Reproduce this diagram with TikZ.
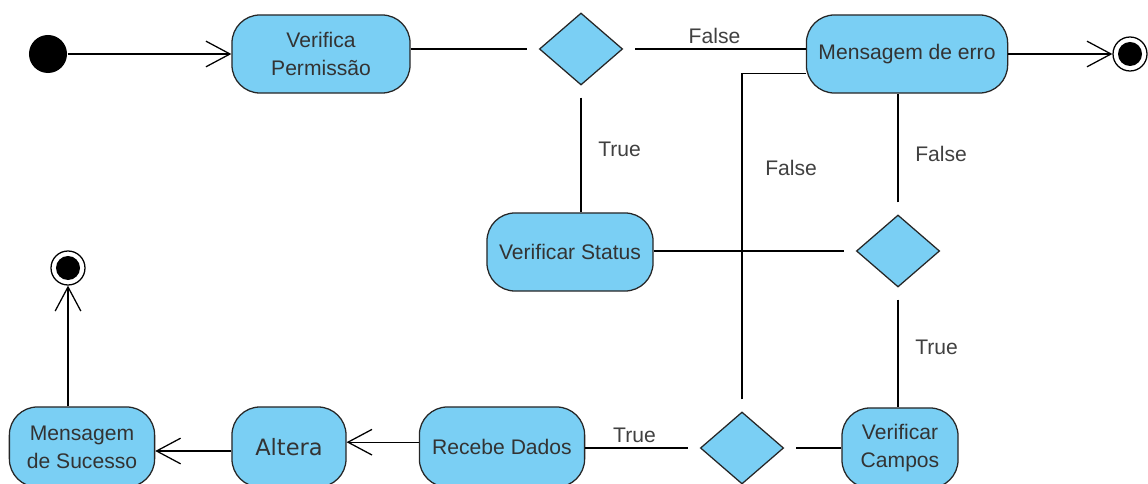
\documentclass[tikz,border=0pt]{standalone}
\usepackage{fontspec}
\setmainfont{Liberation Sans}
\newfontfamily\altfont{DejaVu Sans}
\usetikzlibrary{arrows.meta,shapes.geometric}
\definecolor{actblue}{RGB}{122,207,244}

\begin{document}
\begin{tikzpicture}[x=0.025cm,y=-0.025cm,line width=0.9pt,
  font=\fontsize{15}{20}\selectfont,
  >={Straight Barb[length=6mm,width=6.4mm]},
  act/.style={draw=black!85,fill=actblue,rounded corners=7mm,minimum height=1.95cm,align=center,text=black!80},
  dec/.style={diamond,draw=black!85,fill=actblue,minimum width=2.08cm,minimum height=1.8cm,inner sep=0pt},
  start/.style={circle,fill=black,minimum size=0.95cm,inner sep=0pt},
  stop/.style={circle,draw=black,fill=white,minimum size=0.85cm,inner sep=0pt,
    path picture={\fill[black] (path picture bounding box.center) circle (0.3cm);}},
  lbl/.style={text=black!75}]
  \useasboundingbox (0,0) rectangle (1148,484);
  \node[start] (ini) at (48,54) {};
  \node[act,minimum width=4.45cm] (vp) at (321,54) {Verifica\\Permissão};
  \node[dec] (d1) at (581,49) {};
  \node[act,minimum width=5.03cm] (erro) at (907,54) {Mensagem de erro};
  \node[stop] (fim1) at (1130,54) {};
  \node[act,minimum width=4.15cm] (vs) at (570,252) {Verificar Status};
  \node[dec] (d2) at (898,251) {};
  \node[act,minimum width=2.9cm,minimum height=2cm] (vc) at (900,448) {Verificar\\Campos};
  \node[dec] (d3) at (742,448) {};
  \node[act,minimum width=4.13cm,minimum height=2cm] (rd) at (502,447) {Recebe Dados};
  \node[act,minimum width=2.85cm,minimum height=2cm,font=\altfont\fontsize{16}{20}\selectfont] (alt) at (289,447) {Altera};
  \node[act,minimum width=3.63cm,minimum height=2cm] (ms) at (82,447) {Mensagem\\de Sucesso};
  \node[stop] (fim2) at (68,268) {};
  \coordinate (errin) at ([yshift=-0.48cm]erro.west);

  \draw[->] (ini) -- (vp);
  \draw[shorten >=3mm] (vp.east |- d1) -- (d1.west);
  \draw[shorten <=3mm] (d1.east) -- node[lbl,above]{False} (erro.west |- d1);
  \draw[->] (erro.east) -- (fim1);
  \draw[shorten <=3mm] (d1.south) -- node[lbl,right=3mm]{True} (d1.south |- vs.north);
  \draw[shorten >=3mm] (vs.east |- d2) -- (d2.west);
  \draw[shorten <=3mm] (d2.north) -- node[lbl,right=3mm]{False} (d2.north |- erro.south);
  \draw[shorten <=3mm] (d2.south) -- node[lbl,right=3mm]{True} (d2.south |- vc.north);
  \draw[shorten >=3mm] (vc.west |- d3) -- (d3.east);
  \draw[shorten <=3mm] (d3.north) -- node[lbl,right=4.5mm,pos=0.72]{False} (d3.north |- errin) -- (errin);
  \draw[shorten <=3mm] (d3.west) -- node[lbl,above,pos=0.57]{True} (rd.east |- d3);
  \draw[->] ([yshift=0.12cm]rd.west) -- ([yshift=0.12cm]alt.east);
  \draw[->] ([yshift=-0.1cm]alt.west) -- ([yshift=-0.1cm]ms.east);
  \draw[->] (ms.north -| fim2) -- (fim2);
\end{tikzpicture}
\end{document}
